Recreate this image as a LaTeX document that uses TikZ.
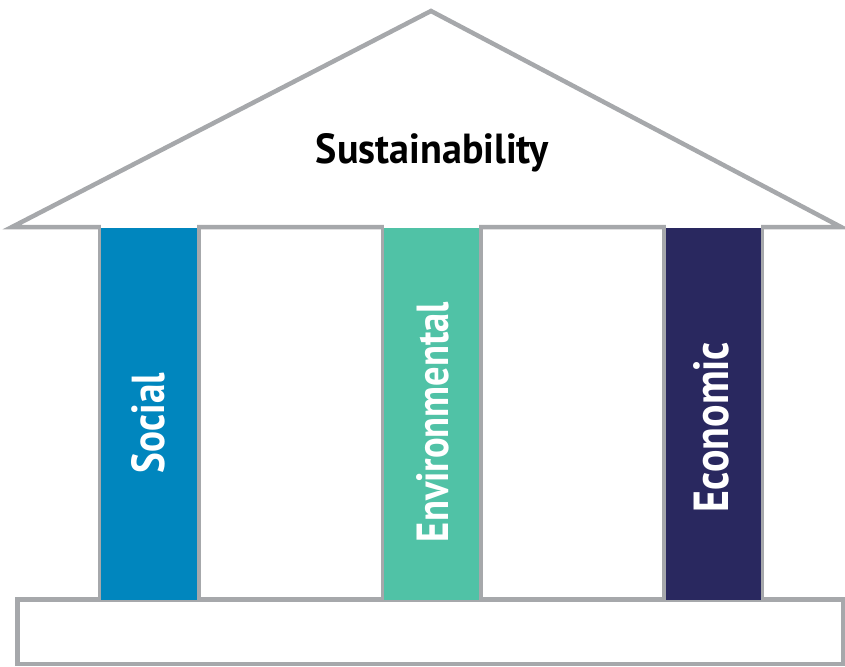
\documentclass[tikz,border=0pt]{standalone}
\usepackage{fontspec}
\setmainfont{PT Sans}
\usepackage{graphicx}
\definecolor{pgray}{HTML}{A6A8AB}
\definecolor{socialblue}{HTML}{0086BE}
\definecolor{envteal}{HTML}{50C2A6}
\definecolor{econnavy}{HTML}{29285F}
\tikzset{
  outline/.style={draw=pgray, line width=4.5pt, line join=miter},
  pillar/.style={fill=#1, draw=none},
  pillartext/.style={text=white, font=\bfseries, rotate=90, anchor=base, inner sep=0pt},
}
\begin{document}
\begin{tikzpicture}[x=1pt,y=-1pt]
\useasboundingbox (0,0) rectangle (845,666);
% roof
\draw[outline] (12,227) -- (431,11) -- (841,227) -- cycle;
% pillar outlines
\foreach \xx in {99.5,198.5,382.5,480.5,664,762}
  \draw[outline, line width=4pt] (\xx,227) -- (\xx,600);
% base
\draw[outline] (17.5,599.5) rectangle (843,664);
% pillar fills (the roof line does not cross the pillars)
\fill[white] (101,223) rectangle (197,228);
\fill[white] (384,223) rectangle (479,228);
\fill[white] (665.5,223) rectangle (760.5,228);
\fill[pillar=socialblue] (101,228) rectangle (197,600);
\fill[pillar=envteal] (384,228) rectangle (479,600);
\fill[pillar=econnavy] (665.5,228) rectangle (760.5,600);
% texts
\node[font=\bfseries, inner sep=0pt, anchor=base] (title) at (432.5,163) {\resizebox{233pt}{30pt}{Sustainability}};
\node[pillartext] (social) at (164,423) {\resizebox{100pt}{33pt}{Social}};
\node[pillartext] (env) at (448,422) {\resizebox{240pt}{32pt}{Environmental}};
\node[pillartext] (econ) at (728,427) {\resizebox{170pt}{35pt}{Economic}};
\end{tikzpicture}
\end{document}
